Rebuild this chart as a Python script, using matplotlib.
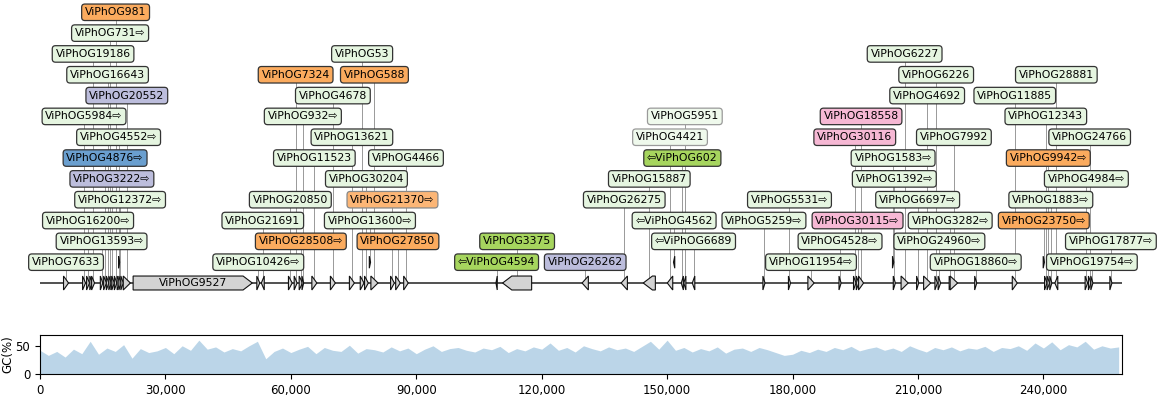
import matplotlib.pyplot as plt
from matplotlib.patches import Polygon
from matplotlib.ticker import FuncFormatter

seq_len = 258800

# genes: start, end, strand
gene_start = [5627, 10188, 11146, 11915, 12344, 14429, 15218, 15866, 16465, 16946,
              17184, 17782, 18451, 18796, 18860, 19339, 19915, 22274, 51861, 52939,
              59425, 60794, 61990, 62669, 65023, 69454, 74004, 76597, 77627, 78765,
              79143, 83854, 85071, 86987, 109062, 110649, 129658, 138998, 144286, 150043,
              151525, 153389, 153988, 156022, 172910, 179016, 183665, 191111, 194581, 195252,
              195790, 203904, 204091, 205958, 209672, 211347, 214053, 214819, 217456, 217692,
              223563, 232553, 239949, 240278, 240877, 241525, 242743, 249978, 250768, 251345,
              255895]
gene_end = [6827, 10888, 11846, 12515, 13044, 15029, 15918, 16466, 17065, 17446,
            17784, 18382, 19151, 19046, 19460, 19939, 21615, 50774, 52561, 53639,
            60325, 61494, 62790, 63069, 66223, 70654, 75204, 77497, 78527, 79065,
            80843, 84754, 86171, 88087, 109362, 117595, 131158, 140498, 147186, 151343,
            151825, 153889, 154488, 156622, 173410, 179516, 185165, 191611, 195181, 195852,
            196990, 204204, 204591, 207658, 210172, 213047, 214653, 215419, 217956, 219492,
            224063, 233753, 240249, 240878, 241477, 242025, 243443, 250578, 251368, 251845,
            256395]
gene_strand = [1, 1, 1, 1, 1, 1, 1, 1, 1, 1,
               1, 1, 1, 1, 1, 1, 1, 1, 1, -1,
               1, 1, 1, 1, 1, 1, 1, 1, 1, 1,
               1, 1, 1, 1, -1, -1, -1, -1, -1, -1,
               -1, -1, -1, -1, 1, 1, 1, 1, 1, 1,
               1, 1, 1, 1, 1, 1, 1, 1, 1, 1,
               1, 1, 1, 1, 1, 1, -1, 1, 1, 1,
               1]
# genes drawn one row up because they overlap
gene_row = [0] * 71
for i in [13, 29, 40, 51, 62]:
    gene_row[i] = 1

labels = ["ViPhOG7633", "ViPhOG5984⇨", "ViPhOG16200⇨", "", "ViPhOG19186",
          "ViPhOG13593⇨", "ViPhOG4876⇨", "ViPhOG16643", "ViPhOG731⇨", "ViPhOG3222⇨",
          "", "ViPhOG981", "ViPhOG4552⇨", "", "ViPhOG12372⇨",
          "", "ViPhOG20552", "ViPhOG9527", "ViPhOG10426⇨", "ViPhOG21691",
          "ViPhOG20850", "ViPhOG7324", "ViPhOG28508⇨", "ViPhOG932⇨", "ViPhOG11523",
          "ViPhOG4678", "ViPhOG13621", "ViPhOG53", "ViPhOG30204", "ViPhOG13600⇨",
          "ViPhOG588", "ViPhOG21370⇨", "ViPhOG27850", "ViPhOG4466", "⇦ViPhOG4594",
          "ViPhOG3375", "ViPhOG26262", "ViPhOG26275", "ViPhOG15887", "ViPhOG4421",
          "⇦ViPhOG4562", "⇦ViPhOG602", "ViPhOG5951", "⇦ViPhOG6689", "ViPhOG5259⇨",
          "ViPhOG5531⇨", "ViPhOG11954⇨", "ViPhOG4528⇨", "ViPhOG30116", "ViPhOG30115⇨",
          "ViPhOG18558", "ViPhOG1583⇨", "ViPhOG1392⇨", "ViPhOG6227", "ViPhOG6697⇨",
          "ViPhOG4692", "ViPhOG6226", "ViPhOG24960⇨", "ViPhOG3282⇨", "ViPhOG7992",
          "ViPhOG18860⇨", "ViPhOG11885", "ViPhOG23750⇨", "ViPhOG12343", "ViPhOG9942⇨",
          "ViPhOG1883⇨", "ViPhOG28881", "ViPhOG4984⇨", "ViPhOG24766", "ViPhOG19754⇨",
          "ViPhOG17877⇨"]
label_level = [0, 7, 2, None, 10, 1, 5, 9, 11, 4,
               None, 12, 6, None, 3, None, 8, None, 0, 2,
               3, 9, 1, 7, 5, 8, 6, 10, 4, 2,
               9, 3, 1, 5, 0, 1, 0, 3, 4, 6,
               2, 5, 7, 1, 2, 3, 0, 1, 6, 2,
               7, 5, 4, 10, 3, 8, 9, 1, 2, 6,
               0, 8, 2, 7, 5, 3, 9, 4, 6, 0,
               1]
label_group = ["g", "g", "g", "", "g", "g", "blue", "g", "g", "purple",
               "", "orange", "g", "", "g", "", "purple", "", "g", "g",
               "g", "orange", "orange", "g", "g", "g", "g", "g", "g", "g",
               "orange", "orange2", "orange", "g", "lime", "lime", "purple", "g", "g", "faded",
               "g", "lime", "faded", "g", "g", "g", "g", "g", "pink", "pink",
               "pink", "g", "g", "g", "g", "g", "g", "g", "g", "g",
               "g", "g", "orange", "g", "orange", "g", "g", "g", "g", "g",
               "g"]

palette = {"g": ("#e5f5e0", "#333333"), "orange": ("#fbab5e", "#333333"),
           "orange2": ("#fcb676", "#888888"), "purple": ("#bcbddc", "#333333"),
           "blue": ("#6a9fcf", "#333333"), "lime": ("#a6d55e", "#333333"),
           "pink": ("#f6b8d4", "#333333"), "faded": ("#eff9ec", "#9a9a9a")}

# GC content, 2 kb windows
gc_pos = list(range(0, 260000, 2000))
gc_val = [42, 33, 40, 30, 44, 36, 58, 35, 46, 40,
          52, 28, 45, 38, 41, 47, 36, 50, 42, 60,
          44, 48, 39, 45, 41, 50, 58, 27, 40, 46,
          38, 44, 49, 36, 47, 42, 40, 51, 37, 45,
          43, 39, 48, 41, 46, 36, 44, 50, 40, 45,
          47, 42, 39, 46, 43, 49, 38, 45, 41, 48,
          44, 55, 42, 47, 39, 50, 45, 41, 48, 43,
          46, 40, 49, 58, 44, 60, 42, 47, 39, 45,
          41, 48, 37, 44, 46, 40, 47, 43, 38, 33,
          35, 42, 38, 44, 40, 47, 43, 49, 41, 45,
          48, 42, 46, 40, 50, 44, 39, 47, 43, 48,
          41, 46, 44, 49, 40, 47, 45, 50, 42, 55,
          46, 57, 43, 52, 48, 58, 44, 50, 46, 48]


def gene_shape(s, e, strand, y, h):
    head = min(e - s, 2200)
    if strand > 0:
        pts = [(s, y - h / 2), (e - head, y - h / 2), (e, y), (e - head, y + h / 2), (s, y + h / 2)]
    else:
        pts = [(e, y - h / 2), (s + head, y - h / 2), (s, y), (s + head, y + h / 2), (e, y + h / 2)]
    return pts


fig = plt.figure(figsize=(11.6, 4.01), dpi=100)
ax = fig.add_axes([40 / 1160, 101 / 401, 1082 / 1160, 300 / 401])
ax.set_xlim(0, seq_len)
ax.set_ylim(-0.816, 13.59)
ax.axis("off")

ax.plot([0, seq_len], [0, 0], color="#222222", lw=1.1, zorder=1)

for i in range(len(gene_start)):
    s, e = gene_start[i], gene_end[i]
    y = gene_row[i]
    h = 0.67 if y == 0 else 0.58
    ax.add_patch(Polygon(gene_shape(s, e, gene_strand[i], y, h), closed=True,
                         fc="#d3d3d3", ec="#111111", lw=0.8, zorder=2))
    c = (s + e) / 2
    if labels[i] == "":
        continue
    if label_level[i] is None:
        ax.text(c, y, labels[i], ha="center", va="center", fontsize=7.8, zorder=3)
        continue
    lev = label_level[i] + 1
    ax.plot([c, c], [y, lev], color="#999999", lw=0.7, zorder=0.5)
    fc, ec = palette[label_group[i]]
    ax.text(c, lev, labels[i], ha="center", va="center", fontsize=7.8, zorder=4,
            bbox=dict(boxstyle="round,pad=0.3", fc=fc, ec=ec, lw=0.9))

ax2 = fig.add_axes([40 / 1160, 27 / 401, 1082 / 1160, 39.5 / 401])
ax2.fill_between(gc_pos, gc_val, 0, color="C0", alpha=0.3, lw=0)
ax2.set_xlim(0, seq_len)
ax2.set_ylim(0, 70)
ax2.set_yticks([0, 50])
ax2.set_xticks(range(0, 250000, 30000))
ax2.xaxis.set_major_formatter(FuncFormatter(lambda v, p: "{:,}".format(int(v))))
ax2.tick_params(labelsize=8.5)
ax2.set_ylabel("GC(%)", fontsize=8.5)
ax2.yaxis.set_label_coords(-0.024, 0.5)

fig.savefig("out.png", dpi=100)
